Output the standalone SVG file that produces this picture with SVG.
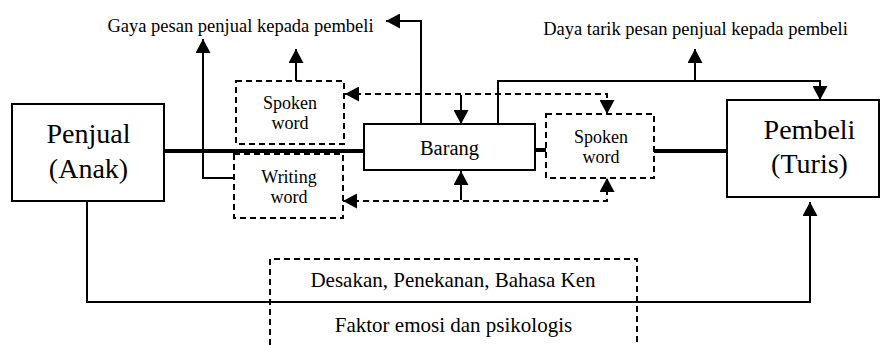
<svg xmlns="http://www.w3.org/2000/svg" width="881" height="345" viewBox="0 0 881 345">
<style>
text{font-family:"Liberation Serif","Times New Roman",serif;fill:#000;text-anchor:middle}
.box{fill:#fff;stroke:#000;stroke-width:2}
.dbox{fill:none;stroke:#000;stroke-width:2;stroke-dasharray:6 4}
.ln{fill:none;stroke:#000;stroke-width:2}
.dl{fill:none;stroke:#000;stroke-width:2;stroke-dasharray:6 4}
.thick{fill:none;stroke:#000;stroke-width:4}
.big{font-size:28px}
.sm{font-size:18px}
.lab{font-size:18.5px}
.bot{font-size:21px}
</style>
<defs>
<marker id="ah" markerUnits="userSpaceOnUse" markerWidth="14" markerHeight="15" refX="14" refY="7.5" orient="auto-start-reverse" viewBox="0 0 14 15">
<path d="M0,0 L14,7.5 L0,15 z" fill="#000"/>
</marker>
</defs>
<g id="connectors">
<path class="thick" d="M164,151 H364"/>
<path class="thick" d="M535,150 H546"/>
<path class="thick" d="M654,151 H727"/>
<path class="ln" d="M234,178 H203 V39" marker-end="url(#ah)"/>
<path class="ln" d="M296,81 V49" marker-end="url(#ah)"/>
<path class="ln" d="M421,124 V21 H386" marker-end="url(#ah)"/>
<path class="ln" d="M498,124 V81 H820 V100" marker-end="url(#ah)"/>
<path class="ln" d="M695,81 V49" marker-end="url(#ah)"/>
<path class="ln" d="M87,201 V302 H810 V202" marker-end="url(#ah)"/>
<path class="dl" d="M345,94 H607 V114" marker-start="url(#ah)" marker-end="url(#ah)"/>
<path class="ln" d="M461,95 V124" marker-end="url(#ah)"/>
<path class="dl" d="M343,201 H607 V178" marker-start="url(#ah)" marker-end="url(#ah)"/>
<path class="ln" d="M461,200 V171" marker-end="url(#ah)"/>
</g>
<g id="penjual">
<rect class="box" x="12" y="104" width="152" height="97"/>
<text class="big" x="88.5" y="143">Penjual</text>
<text class="big" x="88.5" y="178">(Anak)</text>
</g>
<g id="pembeli">
<rect class="box" x="727" y="100" width="152" height="97"/>
<text class="big" x="809.5" y="139">Pembeli</text>
<text class="big" x="809.5" y="173">(Turis)</text>
</g>
<g id="barang">
<rect class="box" x="364" y="124" width="171" height="46"/>
<text style="font-size:20.5px" x="449.5" y="155">Barang</text>
</g>
<g id="spoken-left">
<rect class="dbox" x="236" y="81" width="108" height="63"/>
<text class="sm" x="290" y="109">Spoken</text>
<text class="sm" x="290" y="129">word</text>
</g>
<g id="writing">
<rect class="dbox" x="234" y="154" width="109" height="64"/>
<text class="sm" x="289" y="183">Writing</text>
<text class="sm" x="289" y="203">word</text>
</g>
<g id="spoken-right">
<rect class="dbox" x="546" y="114" width="108" height="64"/>
<text class="sm" x="601" y="143">Spoken</text>
<text class="sm" x="601" y="163">word</text>
</g>
<g id="faktor">
<path class="dbox" d="M270,345 V259 H637 V345"/>
<text class="bot" x="453" y="287">Desakan, Penekanan, Bahasa Ken</text>
<text class="bot" x="453.5" y="332">Faktor emosi dan psikologis</text>
</g>
<g id="labels">
<text class="lab" x="240.5" y="32">Gaya pesan penjual kepada pembeli</text>
<text class="lab" x="695.5" y="35">Daya tarik pesan penjual kepada pembeli</text>
</g>
</svg>
